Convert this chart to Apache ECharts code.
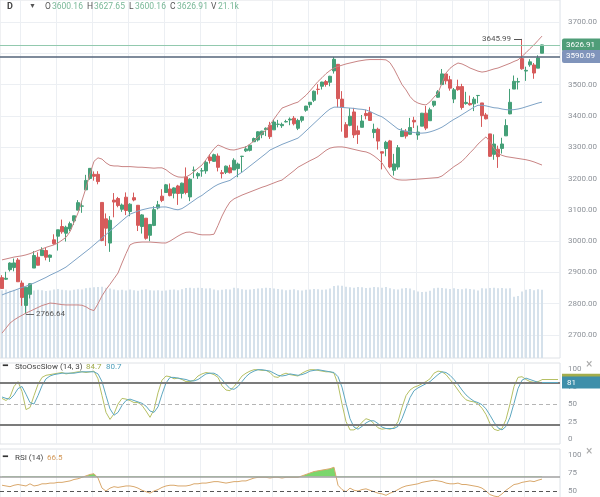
<!DOCTYPE html>
<html><head><meta charset="utf-8">
<script src="https://cdn.jsdelivr.net/npm/echarts@6/dist/echarts.min.js"></script>
<style>html,body{margin:0;padding:0;background:#fff}#c{width:600px;height:497px}</style>
</head><body><div id="c"></div><script>
const dates = ['05-06','05-07','05-08','05-11','05-12','05-13','05-14','05-15','05-18','05-19','05-20','05-21','05-22','05-26','05-27','05-28','05-29',
'06-01','06-02','06-03','06-04','06-05','06-08','06-09','06-10','06-11','06-12','06-15','06-16','06-17','06-18','06-19','06-22','06-23','06-24','06-25','06-26','06-29','06-30',
'07-01','07-02','07-06','07-07','07-08','07-09','07-10','07-13','07-14','07-15','07-16','07-17','07-20','07-21','07-22','07-23','07-24','07-27','07-28','07-29','07-30','07-31',
'08-03','08-04','08-05','08-06','08-07','08-10','08-11','08-12','08-13','08-14','08-17','08-18','08-19','08-20','08-21','08-24','08-25','08-26','08-27','08-28','08-31',
'09-01','09-02','09-03','09-04','09-08','09-09','09-10','09-11','09-14','09-15','09-16','09-17','09-18','09-21','09-22','09-23','09-24','09-25','09-28','09-29','09-30',
'10-01','10-02','10-05','10-06','10-07','10-08','10-09','10-12','10-13','10-14','10-15','10-16','10-19','10-20','10-21','10-22','10-23','10-26','10-27','10-28','10-29','10-30',
'11-02','11-03','11-04','11-05','11-06','11-09','11-10','11-11','11-12','11-13','11-16'];
const padCats = [' ','  ','   ','    '];

const opens = [2883.14,2878.26,2908.83,2915.46,2939.50,2865.86,2794.54,2829.95,2913.86,2948.59,2953.63,2969.95,2948.05,3004.08,3015.65,3046.61,3025.17,
3038.78,3064.78,3098.90,3111.56,3163.84,3199.92,3213.32,3213.42,3123.53,3071.04,2993.76,3131.00,3136.13,3101.64,3140.29,3094.42,3138.70,3114.40,3046.60,3073.20,3018.59,3050.20,
3105.92,3143.64,3155.29,3166.44,3153.07,3176.17,3152.47,3205.08,3141.11,3225.98,3208.36,3224.21,3224.29,3268.52,3254.86,3271.64,3218.58,3219.84,3234.27,3227.22,3231.76,3270.45,
3288.26,3289.92,3317.37,3323.17,3340.05,3356.04,3370.34,3355.46,3372.95,3368.66,3380.86,3387.04,3392.51,3360.48,3386.01,3418.09,3435.95,3449.97,3485.14,3494.69,3509.73,
3507.44,3543.76,3564.74,3453.60,3371.88,3369.82,3412.56,3352.70,3363.56,3407.73,3411.23,3346.86,3357.38,3285.57,3295.75,3320.11,3226.14,3236.66,3333.90,3350.92,3341.21,
3385.87,3338.94,3367.27,3408.74,3384.56,3434.28,3459.67,3500.02,3534.01,3515.47,3453.72,3493.50,3493.66,3439.38,3439.91,3438.50,3464.90,3441.42,3403.15,3342.48,3277.17,3293.59,
3296.20,3336.25,3406.46,3485.74,3508.34,3583.04,3543.26,3563.22,3562.67,3552.57,3600.16];
const closes = [2848.42,2881.19,2929.80,2930.32,2870.12,2820.00,2852.50,2863.70,2953.91,2922.94,2971.61,2948.51,2955.45,2991.77,3036.13,3029.73,3044.31,
3055.73,3080.82,3122.87,3112.35,3193.93,3232.39,3207.18,3190.14,3002.10,3041.31,3066.59,3124.74,3113.49,3115.34,3097.74,3117.86,3131.29,3050.33,3083.76,3009.05,3053.24,3100.29,
3115.86,3130.01,3179.72,3145.32,3169.94,3152.05,3185.04,3155.22,3197.52,3226.56,3215.57,3224.73,3251.84,3257.30,3276.02,3235.66,3215.63,3239.41,3218.44,3258.44,3246.22,3271.12,
3294.61,3306.51,3327.77,3349.16,3351.28,3360.47,3333.69,3380.35,3373.43,3372.85,3381.99,3389.78,3374.85,3385.51,3397.16,3431.28,3443.62,3478.73,3484.55,3508.01,3500.31,
3526.65,3580.84,3455.06,3426.96,3331.84,3398.96,3339.19,3340.97,3383.54,3401.20,3385.49,3357.01,3319.47,3281.06,3315.57,3236.92,3246.59,3298.46,3351.60,3335.47,3363.00,
3380.80,3348.42,3408.60,3360.97,3419.44,3446.83,3477.14,3534.22,3511.93,3488.67,3483.34,3483.81,3426.92,3443.12,3435.56,3453.49,3465.39,3400.97,3390.68,3271.03,3310.11,3269.96,
3310.24,3369.16,3443.44,3510.45,3509.44,3550.50,3545.53,3572.66,3537.01,3585.15,3626.91];
const highs = [2891.11,2901.92,2932.16,2944.25,2945.82,2874.14,2852.80,2865.01,2968.09,2964.21,2980.29,2978.50,2956.76,3021.72,3036.25,3068.67,3049.17,
3062.18,3081.07,3130.94,3128.91,3211.72,3233.13,3222.71,3223.27,3123.53,3088.42,3079.76,3153.45,3141.16,3120.00,3155.53,3120.92,3154.90,3115.01,3086.25,3073.73,3053.89,3111.51,
3128.44,3165.81,3182.59,3184.15,3171.80,3179.78,3186.82,3235.32,3200.95,3238.28,3220.39,3233.52,3258.61,3277.29,3279.32,3279.99,3227.26,3241.43,3243.72,3264.74,3250.92,3272.17,
3302.73,3306.84,3330.77,3351.03,3352.54,3363.29,3381.01,3387.89,3387.24,3378.51,3387.59,3395.06,3399.54,3390.80,3399.96,3432.09,3444.21,3481.07,3501.38,3509.23,3514.77,
3528.03,3588.11,3564.85,3479.15,3379.97,3424.77,3425.55,3368.95,3402.93,3419.48,3428.92,3375.17,3362.27,3285.57,3320.31,3323.35,3278.70,3306.88,3360.74,3357.92,3393.56,
3397.18,3369.10,3409.57,3431.56,3426.26,3447.28,3482.34,3549.85,3534.01,3527.94,3489.08,3515.76,3502.42,3476.93,3464.86,3460.53,3466.46,3441.42,3409.51,3342.48,3341.05,3304.93,
3330.14,3389.49,3486.25,3529.05,3521.58,3645.99,3557.22,3581.16,3569.02,3593.66,3627.65];
const lows = [2847.65,2876.48,2902.88,2903.44,2869.59,2793.15,2766.64,2816.78,2913.86,2922.35,2953.63,2938.57,2933.59,2988.17,2969.75,3023.40,2998.61,
3031.54,3051.64,3098.90,3090.41,3163.84,3196.00,3193.11,3181.49,2999.49,2984.47,2965.66,3076.06,3108.03,3093.51,3083.11,3079.39,3127.12,3032.13,3024.01,3004.63,2999.74,3047.83,
3101.17,3124.52,3155.29,3142.93,3136.53,3115.70,3136.22,3149.43,3127.66,3200.76,3198.59,3205.65,3215.16,3247.77,3253.10,3222.66,3200.05,3214.25,3216.17,3227.22,3204.13,3220.26,
3284.53,3286.37,3317.37,3318.14,3328.72,3335.44,3326.44,3355.46,3363.35,3361.64,3379.22,3370.15,3369.66,3354.69,3379.31,3413.13,3425.84,3444.15,3468.35,3484.32,3493.25,
3494.60,3535.23,3427.41,3349.63,3329.27,3366.84,3329.25,3310.47,3363.56,3389.25,3384.45,3328.82,3292.40,3229.10,3270.95,3232.57,3209.45,3228.44,3332.91,3327.54,3340.47,
3361.39,3323.69,3367.27,3354.54,3384.56,3428.15,3458.07,3499.61,3500.86,3480.55,3440.89,3480.45,3419.93,3435.65,3433.06,3415.34,3440.45,3364.86,3388.71,3268.89,3259.82,3233.94,
3279.74,3336.25,3405.17,3485.74,3484.34,3547.48,3511.91,3557.00,3518.58,3552.57,3600.16];
const volumes = [21.8,22.0,21.6,21.9,22.1,22.3,22.6,22.0,21.7,21.9,21.8,21.5,21.7,22.0,22.2,21.9,21.8,
21.7,21.9,22.1,22.0,22.4,22.6,22.7,22.8,22.9,22.6,22.3,22.0,21.8,21.9,21.7,22.0,21.8,21.6,21.9,22.1,21.8,21.7,
21.8,21.6,21.7,21.9,22.0,21.8,22.1,22.5,22.6,22.4,22.6,22.5,22.3,22.4,22.0,21.8,21.9,22.1,22.0,22.6,22.4,22.1,
21.9,22.0,22.2,22.3,22.4,22.6,22.5,22.3,22.2,22.0,21.8,21.9,22.1,21.8,21.7,21.9,22.0,22.2,22.1,21.9,22.0,
22.3,23.1,23.3,23.2,22.9,22.7,22.6,22.8,22.7,22.5,22.6,22.8,22.7,22.6,22.8,22.4,22.1,22.0,22.3,22.5,22.3,
21.8,21.4,21.2,21.3,21.6,22.4,22.6,22.5,22.3,22.2,22.4,22.2,22.1,22.3,22.2,22.0,21.7,22.4,22.3,22.5,22.6,22.4,
22.5,22.3,22.4,19.7,19.9,21.4,21.9,22.2,21.8,22.1,21.9];
const bbUpper = [2940,2943,2946,2949,2951,2953,2956,2960,2965,
2970,2975,2980,2984,2988,2994,
3003,3012,3030,3060,3090,3130,3170,3215,3255,3266,
3262,3250,3242,3240,3240,3238,3238,3238,3237,3236,3236,3235,3234,3233,3234,3234,
3228,3218,3210,3205,3204,3205,3212,3222,3233,3243,3260,3278,3295,3307,
3302,3296,3292,3291,3294,3298,3301,3310,3320,3332,3344,3355,3372,3390,3408,3425,
3430,3435,3440,3444,3455,3466,3480,3495,3510,3522,3535,3545,3553,
3558,3562,3566,3569,3572,3575,3577,3579,3580,3580,3580,3580,3579,
3570,3550,3525,3500,3483,3462,3448,3441,3437,3435,
3445,3460,3473,3505,3537,3552,3562,3569,3566,3560,3553,3548,3543,3540,
3542,3546,3550,3553,3558,3563,3568,3574,3579,3590,3602,3615,3627,3641,3655];
const bbMiddle = [2828,2833,2838,2842,2847,2852,2856,2861,2866,
2872,2878,2884,2891,2897,2903,2910,2917,
2927,2937,2947,2957,2967,2977,2988,2999,
3010,3021,3032,3043,3054,3065,3076,3086,
3091,3096,3100,3103,3106,3107,3108,3109,3109,
3106,3102,3100,3104,3112,3121,3130,3139,
3146,3156,3165,3174,3181,3186,3190,3194,
3203,3212,3220,3230,3240,3250,3260,3270,3280,3291,
3297,3303,3309,3314,3319,3324,3329,
3340,3352,3364,3376,3388,3400,3412,3422,
3428,3428,3427,3426,3425,3424,3422,3421,3419,
3414,3408,3402,3397,3388,3378,3368,3358,
3354,3351,3349,3347,3345,3345,3346,3349,3353,3358,
3364,3372,3381,3389,3396,3404,3412,3420,3428,3434,
3434,3432,3429,3426,3425,3422,3420,3419,3420,3422,3425,
3429,3433,3437,3441,3444];
const bbLower = [2706,2722,2738,2748,2756,2763,2770,2776,2782,2788,2794,2798,2802,
2801,2799,2797,2796,2796,2796,2796,2795,2790,2782,2778,
2800,2825,2845,2862,2880,2898,2930,2960,2988,
2994,2996,2997,2997,2997,2996,2995,2994,2994,
3000,3008,3016,3023,3028,3029,3026,3022,3020,3020,3020,3022,
3050,3080,3105,3125,3135,3141,3147,3152,3157,3162,3167,3172,3176,3181,3186,3191,3195,
3205,3215,3225,3236,3243,3250,3257,3263,3270,3280,3290,3297,
3300,3301,3301,3299,3296,3293,3290,3287,3285,3280,3272,3262,3250,3230,3211,
3200,3196,3195,3195,3196,3197,3198,3199,3200,3201,3202,3203,
3208,3218,3228,3238,3246,3255,3268,3282,3295,3310,3322,3333,
3318,3296,3280,3274,3270,3268,3266,3264,3262,3260,3257,3253,3248,3243];
const stochK = [58,55,60,75,82,68,42,45,62,78,
88,91,92,93,94,95,93,94,95,96,
96,95,96,97,86,62,38,28,36,50,
58,57,55,52,52,48,40,31,42,66,
84,90,89,86,87,85,82,82,84,90,
93,95,94,92,88,76,70,69,75,82,
90,94,97,99,99,98,98,95,89,88,
92,94,92,91,90,94,97,99,99,98,
97,96,96,94,78,50,25,13,13,17,
24,29,27,22,16,14,15,14,16,25,
45,62,70,74,76,79,82,86,94,97,
96,92,85,78,70,62,56,54,53,50,
44,35,22,14,12,15,28,50,75,88,
89,85,82,81,82,84.7];
const stochD = [60,58,57,63,72,75,64,52,50,62,
76,86,90,92,93,94,94,94,94,95,
96,96,96,96,93,82,62,43,34,38,
48,55,57,55,53,51,47,40,38,46,
64,80,88,88,87,86,85,83,83,85,
89,93,94,94,91,85,78,72,71,75,
82,89,94,97,99,99,98,97,94,91,
90,91,93,92,91,92,94,97,98,99,
98,97,96,95,89,74,51,29,17,14,
18,23,26,26,22,17,15,15,15,18,
29,44,59,69,73,76,79,82,87,92,
96,95,91,85,78,70,63,58,54,52,
49,43,34,24,16,13,18,31,51,72,
84,87,85,83,81,80.7];
const rsi = [58,57,56,58,59,58,57,60,57,58,
60,60,61,61,62,62,63,64,66,67,
69,71,73,74,68,54,50,54,56,55,
56,57,57,56,54,51,49,47,50,52,
55,57,58,58,57,57,57,58,60,60,
61,61,62,63,63,62,61,62,63,63,
64,64,66,68,69,69,69,68,69,69,
68,69,69,69,69,71,73,75,77,78,
79,80,81,83,58,52,49,54,51,50,
52,53,51,49,47,46,44,47,49,52,
55,57,58,59,60,62,63,64,65,64,
63,61,60,60,61,59,59,58,57,56,
54,50,45,43,42,46,51,55,59,60,
62,63,64,63,65,66.5];

const lastPrice = 3626.91, refLine = 3590.09, highMark = 3645.99, lowMark = 2766.64;
const lastVolumeText = '21.1k';
const stochLevels = [80, 50, 20];
const rsiLevels = [70, 50];

const cats = dates.concat(padCats);
const last = dates.length - 1;
const candles = opens.map((o, i) => [o, closes[i], lows[i], highs[i]]);
const FONT = 'Roboto, "Open Sans", sans-serif';
const GRIDC = '#eceff3';
const vLine = (idx) => idx % 9 === 5;

function catAxis(gi, showGrid) {
  return {type:'category', gridIndex:gi, data:cats, boundaryGap:true,
    axisLine:{show:false}, axisTick:{show:false}, axisLabel:{show:false},
    splitLine:{show:showGrid, interval:vLine, lineStyle:{color:GRIDC, width:1}}};
}
const lblStyle = {color:'#8d9299', fontSize:8, fontFamily:FONT, margin:8};

const titles = [];
function txt(left, top, text, color, size, weight) {
  titles.push({left:left, top:top, padding:0, text:text,
    textStyle:{fontSize:size||8.5, color:color, fontWeight:weight||'normal', fontFamily:FONT}});
}
const HV = '#79b897', HL = '#555';
txt(7, 2, 'D', '#444', 9, 'bold');
txt(29, 3, '▼', '#555', 7);
txt(45, 2, 'O', HL); txt(52, 2, opens[last].toFixed(2), HV);
txt(87, 2, 'H', HL); txt(94, 2, highs[last].toFixed(2), HV);
txt(129, 2, 'L', HL); txt(135, 2, lows[last].toFixed(2), HV);
txt(170, 2, 'C', HL); txt(177, 2, closes[last].toFixed(2), HV);
txt(211, 2, 'V', HL); txt(218, 2, lastVolumeText, HV);
txt(3, 362, '━', '#333', 8, 'bold');
txt(15, 363, 'StoOscSlow (14, 3)', '#444', 8);
txt(86, 363, String(stochK[last]), '#a3ad4c', 8);
txt(106, 363, String(stochD[last]), '#4f9fbb', 8);
txt(3, 453, '━', '#333', 8, 'bold');
txt(15, 454, 'RSI (14)', '#444', 8);
txt(47, 454, String(rsi[last]), '#d3995a', 8);
txt(586, 359, '×', '#aaa', 12);
txt(586, 446, '×', '#aaa', 12);

function gridAt(top, height, frame) {
  const g = {left:0, right:40, top:top, height:height, outerBoundsMode:'none', containLabel:false};
  if (frame) { g.show = true; g.borderColor = '#dfe2e6'; g.borderWidth = 1; }
  return g;
}

const option = {
  animation:false,
  backgroundColor:'#fff',
  title: titles,
  grid:[
    gridAt(0, 358, true),
    gridAt(-9.3, 375.6, false),
    gridAt(363, 81, true),
    gridAt(351.5, 105, false),
    gridAt(449, 60, true),
    gridAt(437, 90, false)
  ],
  xAxis:[catAxis(0,true), catAxis(1,false), catAxis(2,true), catAxis(3,false), catAxis(4,true), catAxis(5,false)],
  yAxis:[
    {gridIndex:0, show:false, min:0, max:115},
    {gridIndex:1, position:'right', min:2600, max:3800, interval:100,
      axisLine:{show:false}, axisTick:{show:false},
      axisLabel:Object.assign({formatter:(v)=>v.toFixed(2), showMinLabel:false, showMaxLabel:false}, lblStyle),
      splitLine:{show:true, showMinLine:false, showMaxLine:false, lineStyle:{color:GRIDC}}},
    {gridIndex:2, show:false, min:0, max:1},
    {gridIndex:3, position:'right', min:-25, max:125, interval:25,
      axisLine:{show:false}, axisTick:{show:false}, splitLine:{show:false},
      axisLabel:Object.assign({showMinLabel:false, showMaxLabel:false}, lblStyle)},
    {gridIndex:4, show:false, min:0, max:1},
    {gridIndex:5, position:'right', min:0, max:125, interval:25,
      axisLine:{show:false}, axisTick:{show:false}, splitLine:{show:false},
      axisLabel:Object.assign({showMaxLabel:false}, lblStyle)}
  ],
  visualMap:[{type:'piecewise', show:false, seriesIndex:7, dimension:1,
    pieces:[{lt:70, color:'rgba(255,255,255,0)'}, {gte:70, lte:100, color:'#74d465'}, {gt:100, color:'#74d465'}]}],
  series:[
    {type:'bar', xAxisIndex:0, yAxisIndex:0, data:volumes, barWidth:2, itemStyle:{color:'#d5e1eb'}, silent:true},
    {type:'line', xAxisIndex:1, yAxisIndex:1, data:bbUpper, showSymbol:false, lineStyle:{color:'#c98585', width:1}, silent:true},
    {type:'line', xAxisIndex:1, yAxisIndex:1, data:bbLower, showSymbol:false, lineStyle:{color:'#c98585', width:1}, silent:true},
    {type:'line', xAxisIndex:1, yAxisIndex:1, data:bbMiddle, showSymbol:false, lineStyle:{color:'#7ea3c6', width:1}, silent:true},
    {type:'candlestick', xAxisIndex:1, yAxisIndex:1, data:candles, barWidth:3,
      itemStyle:{color:'#45a078', color0:'#d65b5b', borderColor:'#45a078', borderColor0:'#d65b5b', borderWidth:1},
      markLine:{silent:true, symbol:['none','none'], animation:false,
        data:[
          {yAxis:lastPrice, lineStyle:{color:'#92c9ae', width:1, type:'solid'},
            label:{position:'end', distance:2, formatter:lastPrice.toFixed(2), color:'#fff', backgroundColor:'#4f9d78',
              padding:[2,8,2,4], fontSize:8, fontFamily:FONT, lineHeight:9, borderRadius:2}},
          {yAxis:refLine, lineStyle:{color:'#55647a', width:1.5, type:'solid'},
            label:{position:'end', distance:2, formatter:refLine.toFixed(2), color:'#fff', backgroundColor:'#8094bb',
              padding:[2,8,2,4], fontSize:8, fontFamily:FONT, lineHeight:9, borderRadius:2}},
          [{coord:[dates[128], highMark], lineStyle:{color:'#555', width:1, type:'solid'},
             label:{position:'start', distance:3, formatter:highMark.toFixed(2), color:'#555', fontSize:8, fontFamily:FONT}},
           {coord:[dates[130], highMark]}],
          [{coord:[dates[6], lowMark], lineStyle:{color:'#666', width:1, type:'solid'},
             label:{position:'end', distance:2, formatter:lowMark.toFixed(2), color:'#555', fontSize:8, fontFamily:FONT}},
           {coord:[dates[8], lowMark]}]
        ]}},
    {type:'line', xAxisIndex:3, yAxisIndex:3, data:stochK, showSymbol:false, lineStyle:{color:'#b6c064', width:1}, silent:true,
      markLine:{silent:true, symbol:['none','none'], animation:false,
        data:[
          {yAxis:stochLevels[0], lineStyle:{color:'#7b7b7b', width:2, type:'solid'}, label:{show:false}},
          {yAxis:stochLevels[1], lineStyle:{color:'#b5b5b5', width:1, type:[4,3]}, label:{show:false}},
          {yAxis:stochLevels[2], lineStyle:{color:'#7b7b7b', width:2, type:'solid'}, label:{show:false}},
          [{coord:[dates[last], stochK[last]], lineStyle:{color:'#b6c064', width:1, type:'solid'},
             label:{position:'end', distance:4, formatter:String(Math.round(stochK[last])), color:'#fff', backgroundColor:'#a3ad4c',
               padding:[2,24,2,5], fontSize:8, fontFamily:FONT, lineHeight:8}},
           {coord:[cats[139], stochK[last]]}]
        ]}},
    {type:'line', xAxisIndex:3, yAxisIndex:3, data:stochD, showSymbol:false, lineStyle:{color:'#5da7c0', width:1}, silent:true,
      markLine:{silent:true, symbol:['none','none'], animation:false,
        data:[
          [{coord:[dates[last], stochD[last]], lineStyle:{color:'#5da7c0', width:1, type:'solid'},
             label:{position:'end', distance:4, formatter:String(Math.round(stochD[last])), color:'#fff', backgroundColor:'#3e8faa',
               padding:[2,24,2,5], fontSize:8, fontFamily:FONT, lineHeight:8}},
           {coord:[cats[139], stochD[last]]}]
        ]}},
    {type:'line', xAxisIndex:5, yAxisIndex:5, data:rsi, showSymbol:false, silent:true,
      lineStyle:{width:0, opacity:0}, areaStyle:{origin:rsiLevels[0], opacity:0.95}},
    {type:'line', xAxisIndex:5, yAxisIndex:5, data:rsi, showSymbol:false, silent:true,
      lineStyle:{color:'#d9a86c', width:1},
      markLine:{silent:true, symbol:['none','none'], animation:false,
        data:[
          {yAxis:rsiLevels[0], lineStyle:{color:'#a0a0a0', width:1.5, type:'solid'}, label:{show:false}},
          {yAxis:rsiLevels[1], lineStyle:{color:'#555', width:1, type:[4,3]}, label:{show:false}}
        ]}}
  ]
};
const chart = echarts.init(document.getElementById('c'), null, {renderer:'canvas'});
chart.setOption(option);
</script></body></html>
